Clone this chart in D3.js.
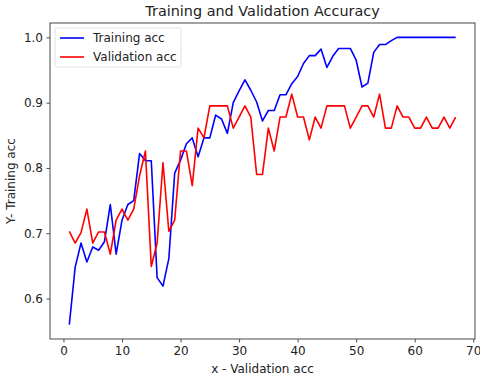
<!DOCTYPE html>
<html>
<head>
<meta charset="utf-8">
<script src="https://cdn.jsdelivr.net/npm/d3@7"></script>
<style>
  body { margin: 0; background: #fff; }
  text { font-family: "DejaVu Sans", sans-serif; fill: #222; }
</style>
</head>
<body>
<svg id="chart" width="480" height="377"></svg>
<script>
// epochs 1..67
var epochs = d3.range(1, 68);

var trainingAcc = [
    0.560, 0.648, 0.685, 0.656, 0.679, 0.674, 0.687, 0.744, 0.668, 0.720,
    0.744, 0.750, 0.822, 0.811, 0.811, 0.632, 0.619, 0.661, 0.792, 0.812,
    0.837, 0.846, 0.817, 0.846, 0.846, 0.881, 0.875, 0.853, 0.900, 0.918,
    0.935, 0.919, 0.901, 0.872, 0.888, 0.888, 0.912, 0.912, 0.929, 0.940,
    0.960, 0.972, 0.972, 0.982, 0.954, 0.971, 0.983, 0.983, 0.983, 0.965,
    0.924, 0.930, 0.977, 0.989, 0.989, 0.995, 1.0, 1.0, 1.0, 1.0,
    1.0, 1.0, 1.0, 1.0, 1.0, 1.0, 1.0
];

var validationAcc = [
    0.703, 0.685, 0.701, 0.737, 0.685, 0.702, 0.702, 0.668, 0.720, 0.737,
    0.720, 0.737, 0.788, 0.826, 0.649, 0.685, 0.808, 0.703, 0.720, 0.826,
    0.826, 0.773, 0.861, 0.846, 0.895, 0.895, 0.895, 0.895, 0.861, 0.878,
    0.895, 0.878, 0.790, 0.790, 0.861, 0.826, 0.878, 0.878, 0.913, 0.878,
    0.878, 0.843, 0.878, 0.861, 0.895, 0.895, 0.895, 0.895, 0.861, 0.878,
    0.895, 0.895, 0.878, 0.913, 0.861, 0.861, 0.895, 0.878, 0.878, 0.861,
    0.861, 0.878, 0.861, 0.861, 0.878, 0.861, 0.878
];

var xTicks = [0, 10, 20, 30, 40, 50, 60, 70];
var yTicks = [0.6, 0.7, 0.8, 0.9, 1.0];

var seriesNames = ["Training acc", "Validation acc"];
var seriesColors = ["#0000ff", "#ff0000"];

var svg = d3.select("#chart");

// plot area edges
var plotLeft = 50, plotRight = 475, plotTop = 23, plotBottom = 339;

var x = d3.scaleLinear().domain([-2.3, 70.3]).range([plotLeft, plotRight]);
var y = d3.scaleLinear().domain([0.538, 1.022]).range([plotBottom, plotTop]);

// Axes
svg.append("g")
    .attr("transform", "translate(0," + plotBottom + ")")
    .call(d3.axisBottom(x).tickValues(xTicks).tickSize(3.5).tickPadding(3.5).tickFormat(d3.format("d")))
    .call(function(g) { g.select(".domain").remove(); })
    .call(function(g) {
        g.selectAll("line").attr("stroke", "#222").attr("stroke-width", 0.8);
        g.selectAll("text").style("font-size", "12px").style("fill", "#222");
    });

svg.append("g")
    .attr("transform", "translate(" + plotLeft + ",0)")
    .call(d3.axisLeft(y).tickValues(yTicks).tickSize(3.5).tickPadding(3.5).tickFormat(d3.format(".1f")))
    .call(function(g) { g.select(".domain").remove(); })
    .call(function(g) {
        g.selectAll("line").attr("stroke", "#222").attr("stroke-width", 0.8);
        g.selectAll("text").style("font-size", "12px").style("fill", "#222");
    });

// Lines
var line = d3.line()
    .x(function(d, i) { return x(epochs[i]); })
    .y(function(d) { return y(d); });

[trainingAcc, validationAcc].forEach(function(series, k) {
    svg.append("path")
        .datum(series)
        .attr("fill", "none")
        .attr("stroke", seriesColors[k])
        .attr("stroke-width", 1.6)
        .attr("stroke-linejoin", "round")
        .attr("d", line);
});

// Frame
svg.append("rect")
    .attr("x", plotLeft)
    .attr("y", plotTop)
    .attr("width", plotRight - plotLeft)
    .attr("height", plotBottom - plotTop)
    .attr("fill", "none")
    .attr("stroke", "#333")
    .attr("stroke-width", 0.9);

// Legend
var legend = svg.append("g").attr("transform", "translate(55,28)");
legend.append("rect")
    .attr("width", 126)
    .attr("height", 39)
    .attr("rx", 2)
    .attr("fill", "#fff")
    .attr("fill-opacity", 0.8)
    .attr("stroke", "#d9d9d9")
    .attr("stroke-width", 0.8);

seriesNames.forEach(function(name, i) {
    legend.append("line")
        .attr("x1", 5).attr("x2", 29)
        .attr("y1", 10 + i * 19).attr("y2", 10 + i * 19)
        .attr("stroke", seriesColors[i])
        .attr("stroke-width", 1.6);
    legend.append("text")
        .attr("x", 38)
        .attr("y", 10 + i * 19)
        .attr("dy", "0.35em")
        .style("font-size", "12px")
        .text(name);
});

// Title and labels
svg.append("text")
    .attr("x", (plotLeft + plotRight) / 2)
    .attr("y", 16)
    .style("text-anchor", "middle")
    .style("font-size", "14.4px")
    .text("Training and Validation Accuracy");

svg.append("text")
    .attr("x", (plotLeft + plotRight) / 2)
    .attr("y", 373)
    .style("text-anchor", "middle")
    .style("font-size", "12px")
    .text("x - Validation acc");

svg.append("text")
    .attr("transform", "rotate(-90)")
    .attr("x", -(plotTop + plotBottom) / 2)
    .attr("y", 15)
    .style("text-anchor", "middle")
    .style("font-size", "12px")
    .text("Y- Training acc");
</script>
</body>
</html>
